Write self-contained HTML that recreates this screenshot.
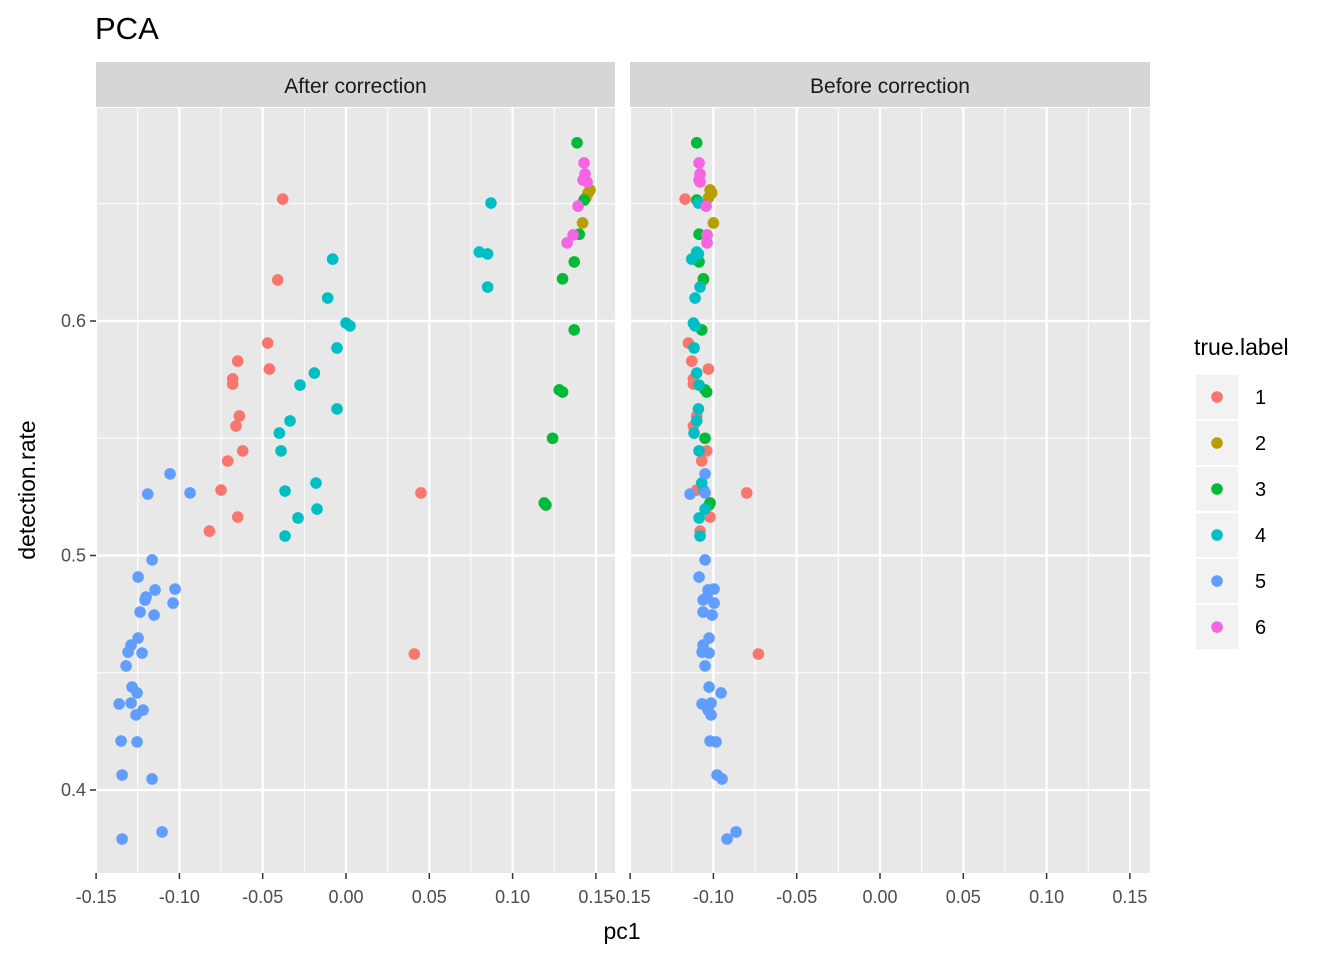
<!DOCTYPE html>
<html><head><meta charset="utf-8"><style>
body{margin:0;background:#fff;font-family:"Liberation Sans",Arial,sans-serif;}
svg text{font-family:"Liberation Sans",Arial,sans-serif;}
</style></head><body>
<svg id="chart" width="1344" height="960" viewBox="0 0 1344 960" xmlns="http://www.w3.org/2000/svg"></svg>
<script>
const labels = [1,1,1,1,1,1,1,1,1,1,1,1,1,1,1,1, 2,2,2,2, 3,3,3,3,3,3,3,3,3,3,3,
 4,4,4,4,4,4,4,4,4,4,4,4,4,4,4,4,4,4,4,4,
 5,5,5,5,5,5,5,5,5,5,5,5,5,5,5,5,5,5,5,5,5,5,5,5,5,5,5,5,5,
 6,6,6,6,6,6,6];
const detectionRate = [0.652,0.6175,0.5906,0.5795,0.5829,0.5753,0.5731,0.5595,0.5552,0.5446,0.5403,0.5279,0.5164,0.5104,0.5267,0.458,
 0.6559,0.6546,0.6525,0.6418,
 0.676,0.6516,0.637,0.6252,0.618,0.5962,0.5706,0.5697,0.55,0.5224,0.5215,
 0.6503,0.6294,0.6286,0.6145,0.6264,0.6098,0.5991,0.5979,0.5885,0.5727,0.5778,0.5574,0.5522,0.5446,0.5625,0.5275,0.5309,0.516,0.5198,0.5083,
 0.5348,0.5262,0.5267,0.4981,0.4908,0.4857,0.4853,0.4823,0.481,0.4797,0.4759,0.4746,0.4648,0.4618,0.4588,0.4584,0.4529,0.4439,0.4414,0.4367,0.4371,0.4341,0.432,0.4209,0.4205,0.4064,0.4047,0.3791,0.3821,
 0.6674,0.6627,0.6593,0.6601,0.649,0.6367,0.6333];
const pc1After = [-0.038,-0.041,-0.047,-0.046,-0.065,-0.068,-0.068,-0.064,-0.066,-0.062,-0.071,-0.075,-0.065,-0.082,0.045,0.041,
 0.1465,0.1453,0.144,0.142,
 0.1387,0.1429,0.140,0.137,0.130,0.137,0.128,0.130,0.124,0.119,0.120,
 0.087,0.080,0.085,0.085,-0.008,-0.011,0.000,0.0024,-0.0054,-0.0276,-0.019,-0.0336,-0.040,-0.039,-0.0054,-0.0366,-0.018,-0.0288,-0.0174,-0.0366,
 -0.1056,-0.119,-0.0936,-0.1164,-0.1248,-0.1026,-0.1146,-0.120,-0.1206,-0.1038,-0.1236,-0.1152,-0.1248,-0.129,-0.1308,-0.1224,-0.132,-0.1284,-0.1254,-0.1362,-0.129,-0.1218,-0.126,-0.135,-0.1254,-0.1344,-0.1164,-0.1344,-0.1104,
 0.1429,0.1435,0.1447,0.1423,0.1393,0.1363,0.1327];
const pc1Before = [-0.117,-0.106,-0.115,-0.103,-0.113,-0.112,-0.112,-0.110,-0.112,-0.104,-0.107,-0.110,-0.102,-0.108,-0.080,-0.073,
 -0.102,-0.101,-0.103,-0.100,
 -0.110,-0.110,-0.1086,-0.1086,-0.106,-0.107,-0.105,-0.104,-0.105,-0.102,-0.1026,
 -0.109,-0.110,-0.109,-0.108,-0.113,-0.111,-0.112,-0.111,-0.1116,-0.1086,-0.110,-0.110,-0.1116,-0.1086,-0.109,-0.1056,-0.107,-0.1086,-0.105,-0.108,
 -0.105,-0.114,-0.105,-0.105,-0.1086,-0.0996,-0.1032,-0.1038,-0.1062,-0.0996,-0.1062,-0.1008,-0.1026,-0.1062,-0.1068,-0.1026,-0.105,-0.1026,-0.0954,-0.1068,-0.1014,-0.1032,-0.1014,-0.102,-0.0984,-0.0978,-0.0948,-0.0918,-0.0864,
 -0.1086,-0.108,-0.108,-0.1086,-0.1044,-0.1038,-0.1038];
const xTicks = [-0.15,-0.10,-0.05,0.00,0.05,0.10,0.15];
const xTickLabels = ["-0.15","-0.10","-0.05","0.00","0.05","0.10","0.15"];
const yTicks = [0.4,0.5,0.6];
const yTickLabels = ["0.4","0.5","0.6"];
const legendLabels = ["1","2","3","4","5","6"];
const colors = {1:"#F8766D",2:"#B79F00",3:"#00BA38",4:"#00BFC4",5:"#619CFF",6:"#F564E3"};

const svg = document.getElementById('chart');
const NS = "http://www.w3.org/2000/svg";
function mk(tag, attrs, parent){ const e=document.createElementNS(NS,tag); for(const k in attrs) e.setAttribute(k,attrs[k]); (parent||svg).appendChild(e); return e; }
const PT = 108, PB = 873;
const panels = [{x0:96,x1:615,zero:346,title:"After correction",data:pc1After,name:"after"},
                {x0:630,x1:1150,zero:880,title:"Before correction",data:pc1Before,name:"before"}];
const sx = 1666;
function yS(v){ return 321 - (v-0.6)*2345; }

let t = mk('text',{x:95,y:39,'font-size':31,fill:'#000'}); t.textContent="PCA";
 

panels.forEach(p=>{
  const xS = v => p.zero + v*sx;
  const g = mk('g',{});
   
  const strip = mk('rect',{x:p.x0,y:62,width:p.x1-p.x0,height:45,fill:'#d6d6d6'},g);
   
  const st = mk('text',{x:(p.x0+p.x1)/2,y:93,'font-size':21,'text-anchor':'middle',fill:'#1a1a1a'},g);
  st.textContent = p.title;
   
  mk('rect',{x:p.x0,y:PT,width:p.x1-p.x0,height:PB-PT,fill:'#e8e8e8'},g);
  for(let i=0;i<xTicks.length-1;i++){ const v=(xTicks[i]+xTicks[i+1])/2; mk('line',{x1:xS(v),x2:xS(v),y1:PT,y2:PB,stroke:'#fff','stroke-width':1},g); }
  [0.45,0.55,0.65].forEach(v=>mk('line',{x1:p.x0,x2:p.x1,y1:yS(v),y2:yS(v),stroke:'#fff','stroke-width':1},g));
  xTicks.forEach((v,i)=>{
    mk('line',{x1:xS(v),x2:xS(v),y1:PT,y2:PB,stroke:'#fff','stroke-width':2.2},g);
    mk('line',{x1:xS(v),x2:xS(v),y1:PB,y2:PB+6,stroke:'#333','stroke-width':1.5},g);
    const tl = mk('text',{x:xS(v),y:903,'font-size':18,'text-anchor':'middle',fill:'#4d4d4d'},g);
    tl.textContent = xTickLabels[i];
     
  });
  yTicks.forEach(v=>mk('line',{x1:p.x0,x2:p.x1,y1:yS(v),y2:yS(v),stroke:'#fff','stroke-width':2.2},g));
  p.data.forEach((xv,i)=>{
    const c = mk('circle',{cx:xS(xv),cy:yS(detectionRate[i]),r:5.8,fill:colors[labels[i]]},g);
    
    
  });
});
yTicks.forEach((v,i)=>{
  mk('line',{x1:90,x2:96,y1:yS(v),y2:yS(v),stroke:'#333','stroke-width':1.5});
  const tl = mk('text',{x:86,y:yS(v)+6,'font-size':18,'text-anchor':'end',fill:'#4d4d4d'});
  tl.textContent = yTickLabels[i];
   
});
t = mk('text',{x:622,y:939,'font-size':23,'text-anchor':'middle',fill:'#000'}); t.textContent="pc1";
 
t = mk('text',{x:35,y:490,'font-size':23,'text-anchor':'middle',fill:'#000',transform:'rotate(-90 35 490)'}); t.textContent="detection.rate";
 
const lg = mk('g',{});
 
t = mk('text',{x:1194,y:355,'font-size':23,fill:'#000'},lg); t.textContent="true.label";
 
legendLabels.forEach((l,i)=>{
  const y0 = 375 + i*46;
  const e = mk('g',{},lg);
   
  mk('rect',{x:1196,y:y0,width:42,height:44,fill:'#f2f2f2'},e);
  mk('circle',{cx:1217,cy:y0+22,r:5.8,fill:colors[+l]},e);
  const tx = mk('text',{x:1255,y:y0+29,'font-size':20,fill:'#000'},e); tx.textContent=l;
});
</script>
</body></html>
